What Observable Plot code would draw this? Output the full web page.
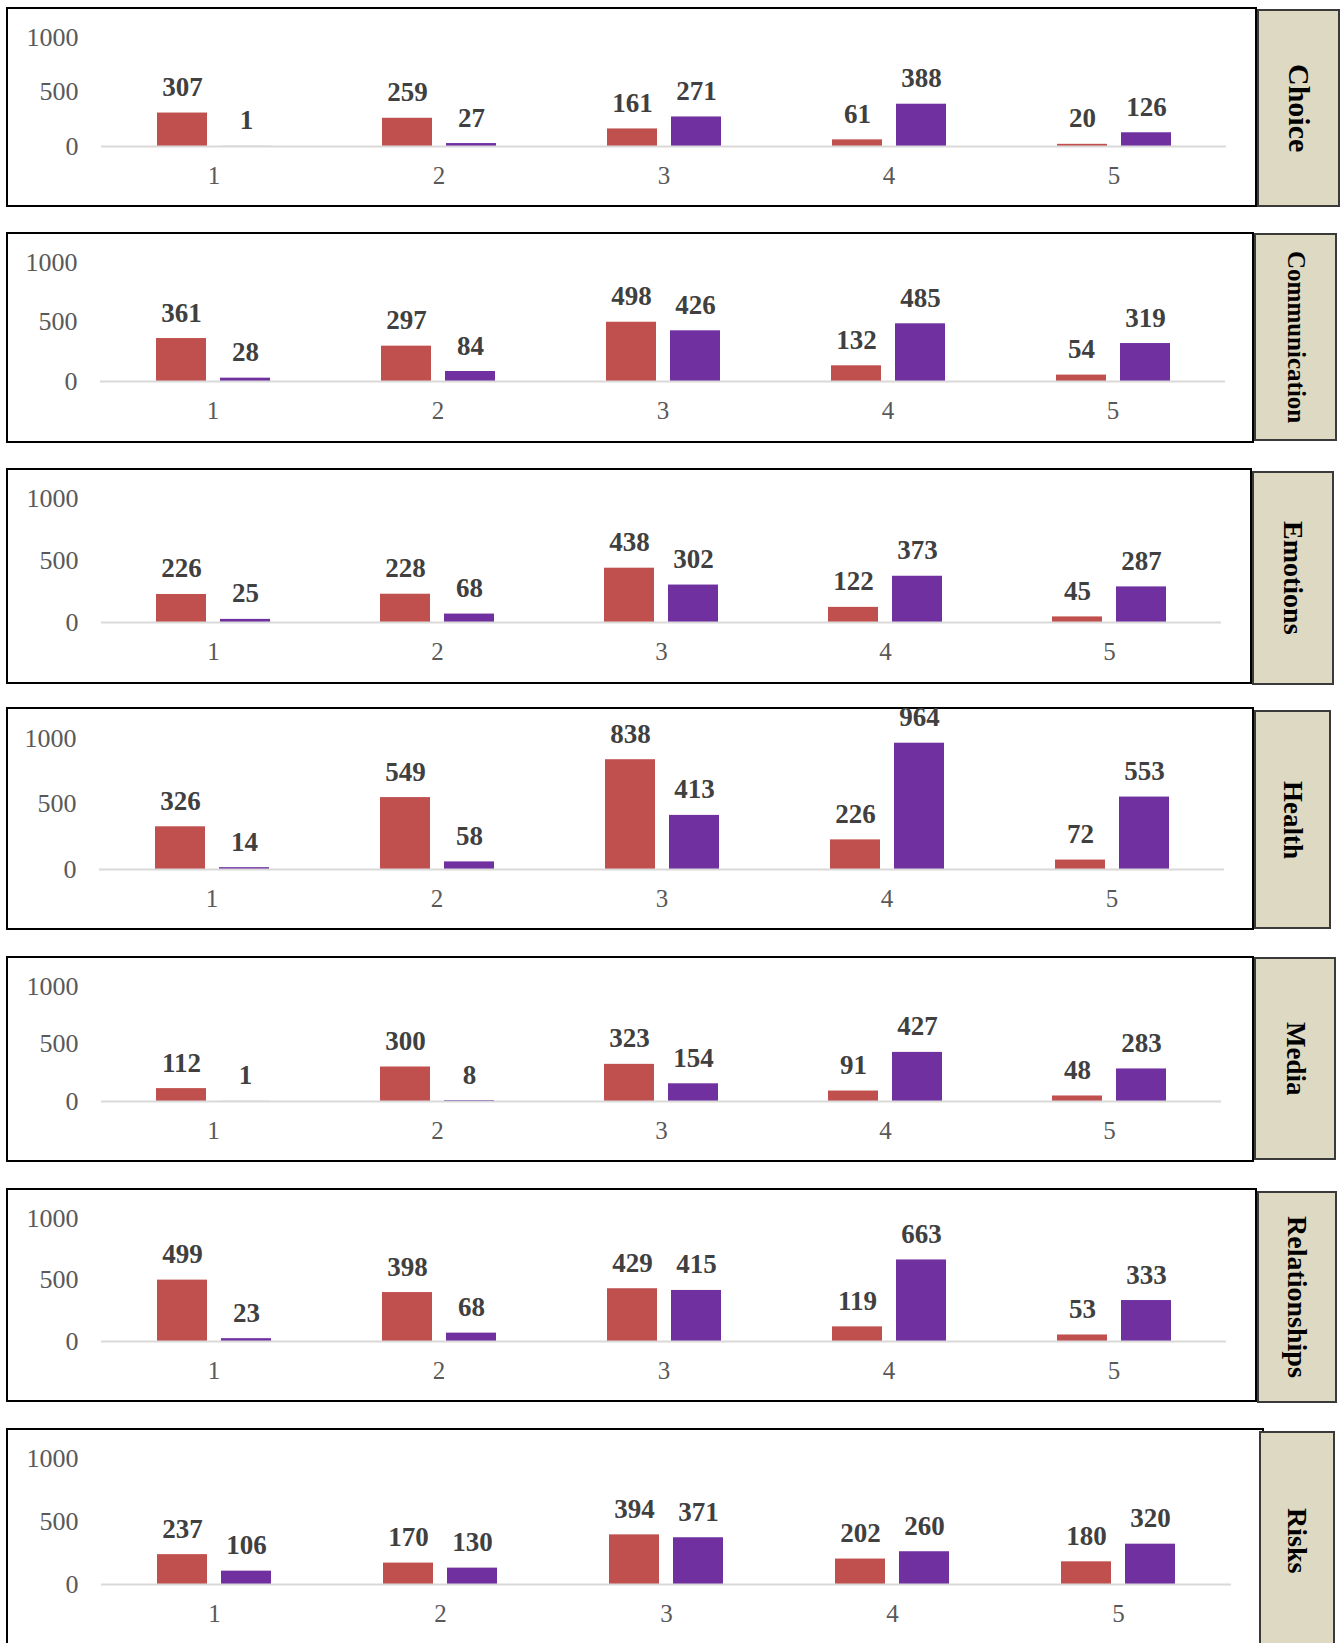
<!DOCTYPE html>
<html><head><meta charset="utf-8">
<script src="https://cdn.jsdelivr.net/npm/d3@7"></script>
<script src="https://cdn.jsdelivr.net/npm/@observablehq/plot@0.6"></script>
<style>
html,body{margin:0;padding:0;background:#fff;overflow:hidden;}
#page{position:relative;width:1340px;height:1643px;overflow:hidden;}
.box{position:absolute;box-sizing:border-box;border:2px solid #000;background:#fff;}
.tag{position:absolute;box-sizing:border-box;border:2px solid #3a3a3a;background:#DDD9C3;display:flex;align-items:center;justify-content:center;}
.tag span{writing-mode:vertical-rl;font-family:"Liberation Serif",serif;font-weight:bold;color:#000;white-space:nowrap;}
.chart{position:absolute;left:0;}
</style></head><body><div id="page"></div><script>
// ---- data ----
const topics = ["Choice","Communication","Emotions","Health","Media","Relationships","Risks"];
const categories = ["1","2","3","4","5"];
const seriesNames = ["Series 1","Series 2"];
const series1 = [
  [307,259,161,61,20],
  [361,297,498,132,54],
  [226,228,438,122,45],
  [326,549,838,226,72],
  [112,300,323,91,48],
  [499,398,429,119,53],
  [237,170,394,202,180]
];
const series2 = [
  [1,27,271,388,126],
  [28,84,426,485,319],
  [25,68,302,373,287],
  [14,58,413,964,553],
  [1,8,154,427,283],
  [23,68,415,663,333],
  [106,130,371,260,320]
];
const yTicks = [0,500,1000];
const colors = ["#C0504D","#7030A0"];

// ---- layout (page pixels) ----
const layout = [
  {box:[6,7,1257,207],     tag:[1257,9,1340,207],    y1000:37,   y0:146,  right:1227, tagFont:30},
  {box:[6,232,1254,443],   tag:[1254,233,1337,441],  y1000:262,  y0:381,  right:1225, tagFont:25},
  {box:[6,468,1252,684],   tag:[1252,471,1334,685],  y1000:498,  y0:622,  right:1222, tagFont:28},
  {box:[6,707,1254,930],   tag:[1254,710,1331,929],  y1000:738,  y0:869,  right:1224, tagFont:27},
  {box:[6,956,1254,1162],  tag:[1254,957,1336,1160], y1000:986,  y0:1101, right:1223, tagFont:27},
  {box:[6,1188,1257,1402], tag:[1257,1191,1337,1403],y1000:1218, y0:1341, right:1228, tagFont:28},
  {box:[6,1428,1264,1650], tag:[1259,1431,1335,1650],y1000:1458, y0:1584, right:1233, tagFont:28}
];

const page = document.getElementById("page");

topics.forEach((topic, t) => {
  const L = layout[t];
  const [bx0, by0, bx1, by1] = L.box;
  const box = document.createElement("div");
  box.className = "box";
  Object.assign(box.style, {left: bx0 + "px", top: by0 + "px", width: (bx1 - bx0) + "px", height: (by1 - by0) + "px"});
  page.appendChild(box);

  const rows = [];
  categories.forEach((c, i) => {
    rows.push({cat: c, series: seriesNames[0], value: series1[t][i]});
    rows.push({cat: c, series: seriesNames[1], value: series2[t][i]});
  });

  const height = by1 - by0;
  const width = bx1;
  const chart = Plot.plot({
    width, height,
    marginLeft: 99,
    marginRight: width - L.right,
    marginTop: L.y1000 - by0,
    marginBottom: by1 - L.y0,
    style: {fontFamily: "'Liberation Serif', serif", fontSize: "25px", color: "#595959", background: "transparent", overflow: "visible"},
    fx: {domain: categories, padding: 0, label: null},
    x: {domain: seriesNames, paddingInner: 0.22, paddingOuter: 0.85, axis: null},
    y: {domain: [0, 1000], label: null},
    color: {domain: seriesNames, range: colors},
    marks: [
      Plot.barY(rows, {fx: "cat", x: "series", y: "value", fill: "series"}),
      Plot.ruleY([0], {stroke: "#D9D9D9", strokeWidth: 2}),
      Plot.text(rows, {fx: "cat", x: "series", y: "value", text: d => String(d.value), lineAnchor: "bottom", dy: -17, fontWeight: "bold", fontSize: 27, fill: "#404040"}),
      Plot.axisY(yTicks, {tickSize: 0, tickPadding: 23, label: null, tickFormat: d => String(d), fontSize: 26}),
      Plot.axisFx({anchor: "bottom", tickSize: 0, tickPadding: 20, label: null, fontSize: 25})
    ]
  });
  chart.classList.add("chart");
  chart.style.top = by0 + "px";
  chart.style.left = "0px";
  chart.style.position = "absolute";
  chart.style.maxWidth = "none";
  page.appendChild(chart);

  const [tx0, ty0, tx1, ty1] = L.tag;
  const tag = document.createElement("div");
  tag.className = "tag";
  Object.assign(tag.style, {left: tx0 + "px", top: ty0 + "px", width: (tx1 - tx0) + "px", height: (ty1 - ty0) + "px"});
  const span = document.createElement("span");
  span.textContent = topic;
  span.style.fontSize = L.tagFont + "px";
  tag.appendChild(span);
  page.appendChild(tag);
});
</script></body></html>
